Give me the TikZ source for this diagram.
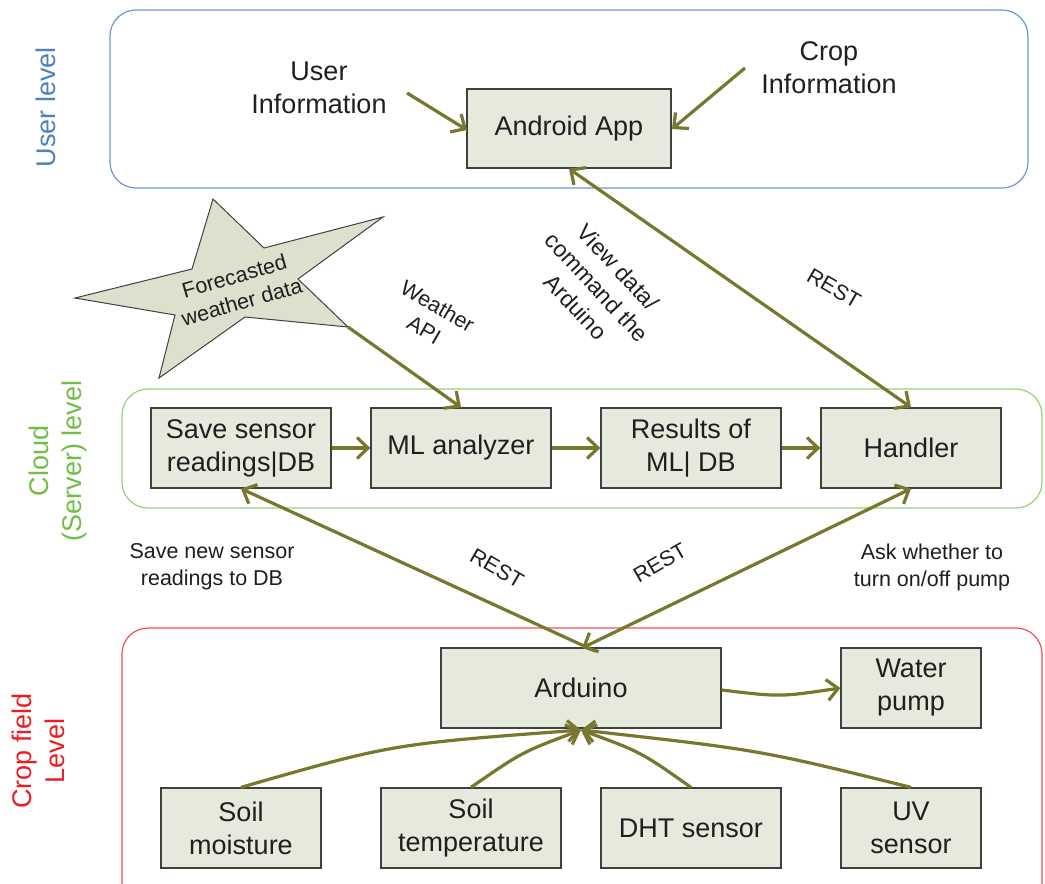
\documentclass[tikz,border=0pt]{standalone}
\usepackage{fontspec}
\setmainfont{Liberation Sans}
\usetikzlibrary{arrows.meta}
\definecolor{arr}{RGB}{119,120,46}
\definecolor{boxfill}{RGB}{230,234,220}
\definecolor{boxline}{RGB}{64,64,64}
\definecolor{ublue}{RGB}{79,129,189}
\definecolor{ubluel}{RGB}{110,150,210}
\definecolor{cgreen}{RGB}{112,190,70}
\definecolor{cgreenl}{RGB}{150,210,120}
\definecolor{fred}{RGB}{237,28,36}
\definecolor{fredl}{RGB}{240,80,90}
\definecolor{starfill}{RGB}{221,224,204}
\tikzset{
  box/.style={draw=boxline, fill=boxfill, line width=1.3pt, inner sep=0pt, align=center,
    font=\fontsize{27}{33}\selectfont, text=black!88},
  bigtxt/.style={align=center, font=\fontsize{27}{33}\selectfont, text=black!88, inner sep=0pt},
  smalltxt/.style={align=center, font=\fontsize{21.5}{27}\selectfont, text=black!88, inner sep=0pt},
  conn/.style={draw=arr, line width=3.2pt, -{Straight Barb[length=11pt,width=21pt]}},
  bconn/.style={draw=arr, line width=3.2pt, {Straight Barb[length=11pt,width=21pt]}-{Straight Barb[length=11pt,width=21pt]}},
  rconn/.style={draw=arr, line width=3.2pt, {Straight Barb[length=11pt,width=21pt]}-},
  level/.style={rounded corners=26pt, line width=1.2pt},
  sidelab/.style={rotate=90, align=center, font=\fontsize{27}{33}\selectfont, inner sep=0pt}
}
\begin{document}
\begin{tikzpicture}[x=1pt,y=-1pt]
\useasboundingbox (0,0) rectangle (1045,884);
\fill[white] (0,0) rectangle (1045,884);
\clip (0,0) rectangle (1045,884);

% level frames
\draw[level, draw=ubluel] (110,10) rectangle (1028,188);
\draw[level, draw=cgreenl] (122,389) rectangle (1042,508);
\draw[level, draw=fredl] (122,628) rectangle (1042,910);

% side labels
\node[sidelab, text=ublue] (lu) at (46,107) {User level};
\node[sidelab, text=cgreen] (lc) at (58,461) {Cloud\\(Server) level};
\node[sidelab, text=fred] (lf) at (38,751) {Crop field\\Level};

% user level
\node[box, minimum width=204, minimum height=79] (app) at (569,128.5) {Android App};
\node[bigtxt] (uinfo) at (319,88) {User\\Information};
\node[bigtxt] (cinfo) at (829,68) {Crop\\Information};
\coordinate (us) at (407,93);
\coordinate (cs) at (745,68);
\draw[conn] (us) -- (467,130);
\draw[conn] (cs) -- (672,129);

% star
\draw[boxline, fill=starfill, line width=1pt]
  (213,199) -- (264,248) -- (383,217) -- (298,279) -- (348,327) -- (245,317)
  -- (159,378) -- (175,315) -- (75,298) -- (192,269) -- cycle;
\coordinate (starpt) at (348,327);
\node[smalltxt, rotate=16] (startxt) at (238,289) {Forecasted\\weather data};

% cloud level
\node[box, minimum width=180, minimum height=80] (save) at (241,448) {Save sensor\\readings|DB};
\node[box, minimum width=180, minimum height=80] (ml) at (461,448) {ML analyzer};
\node[box, minimum width=180, minimum height=80] (res) at (691,448) {Results of\\ML| DB};
\node[box, minimum width=180, minimum height=80] (hand) at (911,448) {Handler};

\draw[conn] (save.east) -- (ml.west);
\draw[conn] (ml.east) -- (res.west);
\draw[conn] (res.east) -- (hand.west);

\draw[conn] (starpt) -- (ml.north);
\node[smalltxt, rotate=-30] (wapi) at (431,318) {Weather\\API};

\draw[bconn] (app.south) -- (hand.north);
\node[smalltxt, rotate=-47, font=\fontsize{23}{29}\selectfont] (view) at (597,287) {View data/\\command the\\Arduino};
\node[smalltxt, rotate=-30] (rest1) at (834,288) {REST};

% crop field level
\node[box, minimum width=280, minimum height=80] (ard) at (581,688) {Arduino};
\node[box, minimum width=140, minimum height=80] (pump) at (911,688) {Water\\pump};
\node[box, minimum width=160, minimum height=80] (soilm) at (241,828) {Soil\\moisture};
\node[box, minimum width=180, minimum height=80] (soilt) at (471,828) {Soil\\temperature};
\node[box, minimum width=180, minimum height=80] (dht) at (691,828) {DHT sensor};
\node[box, minimum width=140, minimum height=80] (uv) at (911,828) {UV\\sensor};

\coordinate (ardin) at (581,730);
\coordinate (ardtop) at (582,648);
\coordinate (ardtopl) at (595,651);

\draw[rconn] (save.south) -- (ardtopl);
\draw[bconn] (hand.south) -- (ardtop);
\node[smalltxt, rotate=-30] (rest2) at (497,568) {REST};
\node[smalltxt, rotate=30] (rest3) at (660,563) {REST};
\node[smalltxt] (savelab) at (212,567) {Save new sensor\\readings to DB};
\node[smalltxt] (asklab) at (932,567) {Ask whether to\\turn on/off pump};

\draw[conn] (ard.east |- 0,690) .. controls (780,697) .. (pump.west);
\draw[conn] (soilm.north) .. controls (392,744) .. (ardin);
\draw[conn] (soilt.north) .. controls (522,752) .. (ardin);
\draw[conn] (dht.north) .. controls (641,752) .. (ardin);
\draw[conn] (uv.north) .. controls (760,750) .. (ardin);
\end{tikzpicture}
\end{document}
